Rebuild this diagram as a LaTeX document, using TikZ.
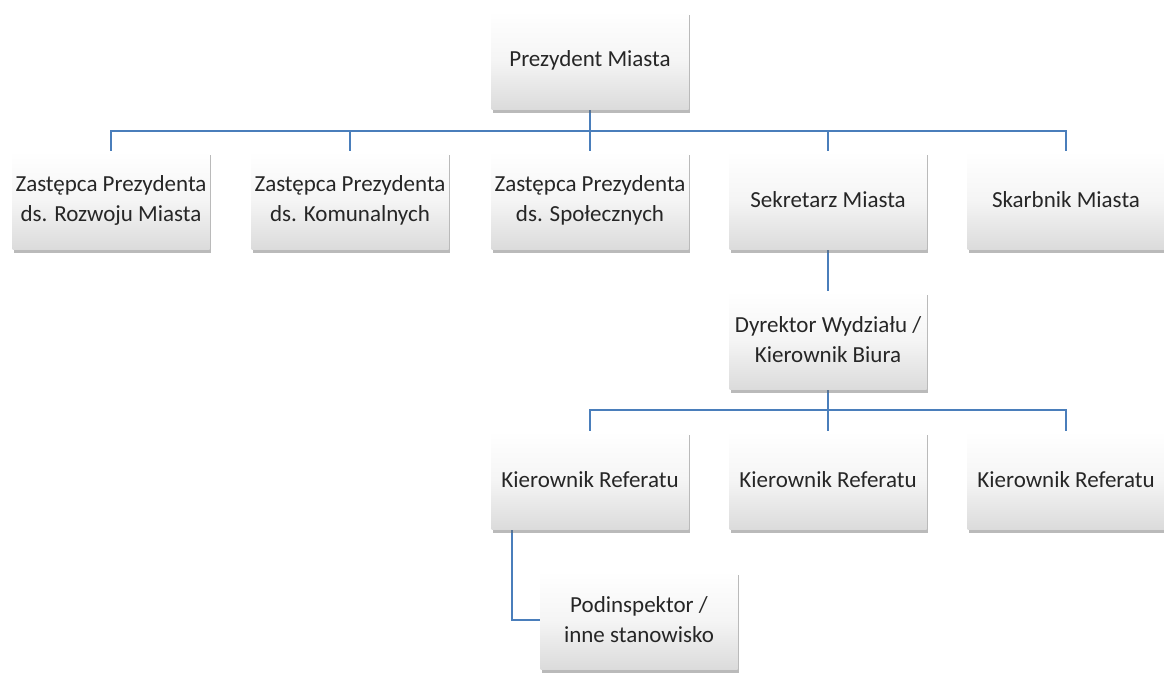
\documentclass[tikz,border=0pt]{standalone}
\usepackage{fontspec}
\setmainfont{Carlito}
\usetikzlibrary{shadows,backgrounds}
\definecolor{lineblue}{RGB}{74,126,187}
\tikzset{
  orgbox/.style={rectangle, minimum width=197pt, minimum height=98pt, inner sep=1pt,
    align=center, top color=white, bottom color=black!14, middle color=white!96!black,
    font=\fontsize{23}{30}\selectfont, text=black!85,
    drop shadow={shadow xshift=1pt, shadow yshift=-4pt, opacity=0.45, fill=black!60}},
  conn/.style={draw=lineblue, line width=2pt}
}
\begin{document}
\begin{tikzpicture}[x=1pt,y=-1pt]
\useasboundingbox (0,0) rectangle (1164,673);
\node[orgbox] (pm) at (590,60) {Prezydent Miasta};
\node[orgbox] (z1) at (111,200) {Zastępca Prezydenta\\ds. Rozwoju Miasta};
\node[orgbox] (z2) at (350,200) {Zastępca Prezydenta\\ds. Komunalnych};
\node[orgbox] (z3) at (590,200) {Zastępca Prezydenta\\ds. Społecznych};
\node[orgbox] (sek) at (828,200) {Sekretarz Miasta};
\node[orgbox] (skb) at (1066,200) {Skarbnik Miasta};
\node[orgbox] (dyr) at (828,340) {Dyrektor Wydziału /\\Kierownik Biura};
\node[orgbox] (k1) at (590,480) {Kierownik Referatu};
\node[orgbox] (k2) at (828,480) {Kierownik Referatu};
\node[orgbox] (k3) at (1066,480) {Kierownik Referatu};
\node[orgbox] (pod) at (639,620) {Podinspektor /\\inne stanowisko};
\coordinate (bus1) at (590,131);
\coordinate (bus2) at (828,410);
\begin{pgfonlayer}{background}
\draw[conn] (pm.south) -- (z3.north);
\draw[conn] (z1.north) |- (bus1) -| (skb.north);
\draw[conn] (z2.north) -- (z2.north |- bus1);
\draw[conn] (sek.north) -- (sek.north |- bus1);
\draw[conn] (sek.south) -- (dyr.north);
\draw[conn] (dyr.south) -- (k2.north);
\draw[conn] (k1.north) |- (bus2) -| (k3.north);
\draw[conn] ([xshift=-78pt]k1.south) |- (pod.west);
\end{pgfonlayer}
\end{tikzpicture}
\end{document}
